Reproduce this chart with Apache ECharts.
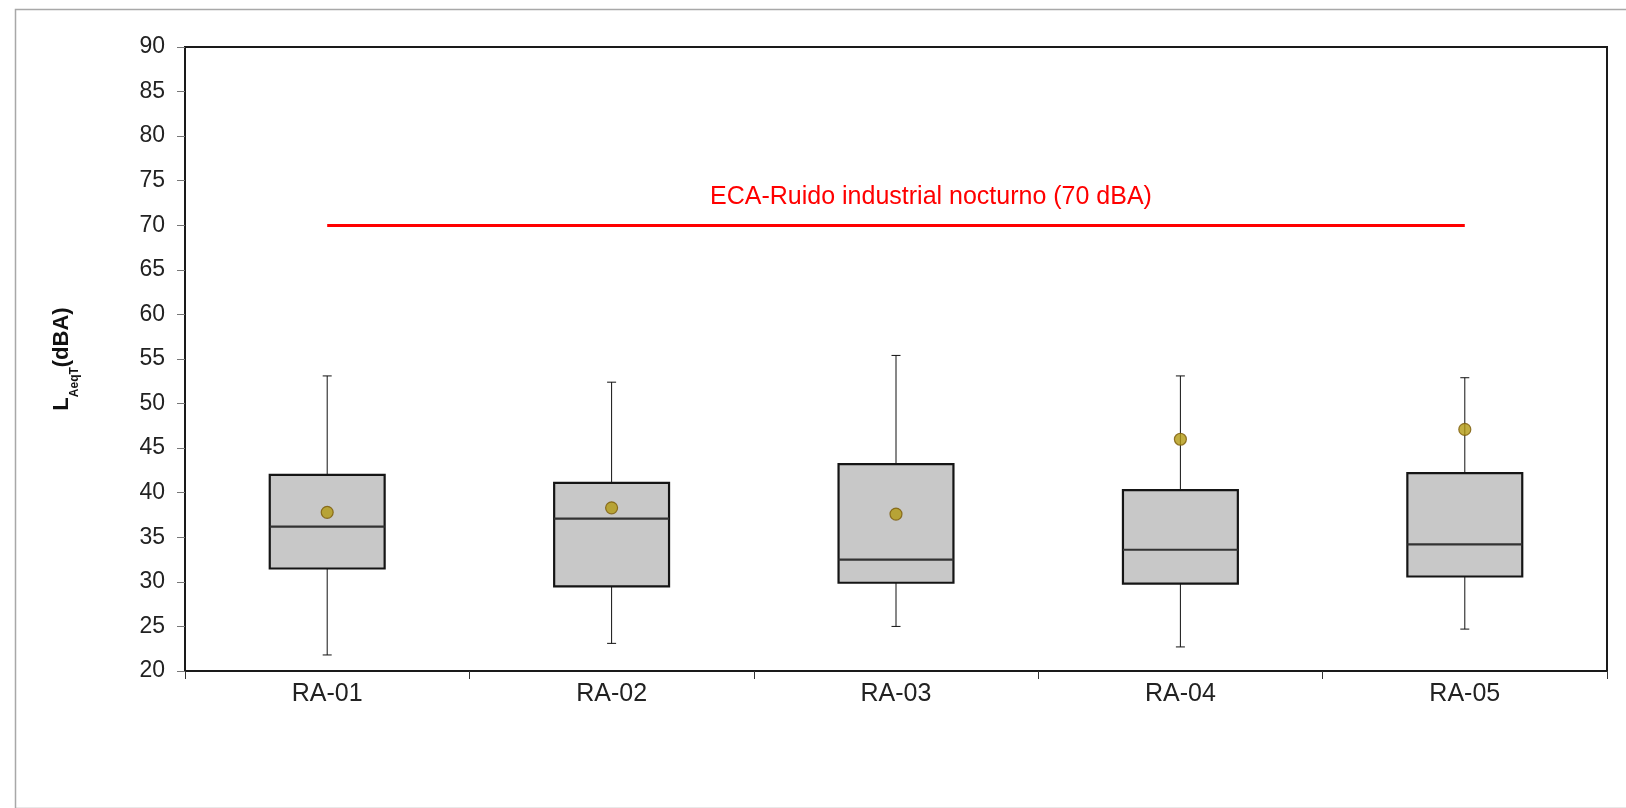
<!DOCTYPE html>
<html>
<head>
<meta charset="utf-8">
<script src="https://cdn.jsdelivr.net/npm/echarts@6/dist/echarts.min.js"></script>
<style>
html,body{margin:0;padding:0;background:#fff;}
#chart{width:1626px;height:808px;}
</style>
</head>
<body>
<div id="chart"></div>
<script>
// ---- data ----
const categories = ['RA-01', 'RA-02', 'RA-03', 'RA-04', 'RA-05'];
const whiskerLow  = [21.8, 23.1, 25.0, 22.7, 24.7];
const q1          = [31.5, 29.5, 29.9, 29.8, 30.6];
const median      = [36.2, 37.1, 32.5, 33.6, 34.2];
const q3          = [42.0, 41.1, 43.2, 40.3, 42.2];
const whiskerHigh = [53.1, 52.4, 55.4, 53.1, 52.9];
const means       = [37.8, 38.3, 37.6, 46.0, 47.1];
const yTicks = { min: 20, max: 90, step: 5 };
const limitValue = 70;
const limitFrom = 0;   // category index where the limit line starts
const limitTo = 4;     // category index where the limit line ends
const limitLabel = 'ECA-Ruido industrial nocturno (70 dBA)';

const FONT = '"Liberation Sans", Arial, sans-serif';

const boxData = categories.map((c, i) => [i, whiskerLow[i], q1[i], median[i], q3[i], whiskerHigh[i]]);
const meanData = categories.map((c, i) => [i, means[i]]);

const chart = echarts.init(document.getElementById('chart'), null, { renderer: 'canvas' });

function renderBox(params, api) {
  const x = api.value(0);
  const pLow = api.coord([x, api.value(1)]);
  const pQ1 = api.coord([x, api.value(2)]);
  const pMed = api.coord([x, api.value(3)]);
  const pQ3 = api.coord([x, api.value(4)]);
  const pHigh = api.coord([x, api.value(5)]);
  const band = api.size([1, 0])[0];
  const half = band * 0.202;
  const cap = 4.5;
  const cx = pMed[0];
  const thin = { stroke: '#111', lineWidth: 1 };
  return {
    type: 'group',
    children: [
      { type: 'line', shape: { x1: cx, y1: pHigh[1], x2: cx, y2: pQ3[1] }, style: thin },
      { type: 'line', shape: { x1: cx - cap, y1: pHigh[1], x2: cx + cap, y2: pHigh[1] }, style: thin },
      { type: 'line', shape: { x1: cx, y1: pQ1[1], x2: cx, y2: pLow[1] }, style: thin },
      { type: 'line', shape: { x1: cx - cap, y1: pLow[1], x2: cx + cap, y2: pLow[1] }, style: thin },
      { type: 'rect', shape: { x: cx - half, y: pQ3[1], width: half * 2, height: pQ1[1] - pQ3[1] },
        style: { fill: '#c8c8c8', stroke: '#151515', lineWidth: 2.2 } },
      { type: 'line', shape: { x1: cx - half, y1: pMed[1], x2: cx + half, y2: pMed[1] },
        style: { stroke: '#333', lineWidth: 2.2 } }
    ]
  };
}

const option = {
  backgroundColor: '#ffffff',
  animation: false,
  textStyle: { fontFamily: FONT },
  grid: {
    left: 185, right: 19, top: 47, bottom: 137,
    show: true, borderColor: '#1a1a1a', borderWidth: 2, backgroundColor: '#ffffff'
  },
  xAxis: [
    {
      type: 'category',
      data: categories,
      boundaryGap: true,
      axisLine: { show: true, onZero: false, lineStyle: { color: '#1a1a1a', width: 2 } },
      axisTick: { show: true, length: 8, lineStyle: { color: '#333', width: 1 } },
      axisLabel: { fontSize: 25, color: '#222', margin: 11, fontFamily: FONT },
      splitLine: { show: false }
    },
    {
      type: 'value',
      min: -0.5, max: categories.length - 0.5,
      show: false,
      axisLine: { show: false, onZero: false },
      axisTick: { show: false },
      axisLabel: { show: false },
      splitLine: { show: false }
    }
  ],
  yAxis: {
    type: 'value',
    min: yTicks.min, max: yTicks.max, interval: yTicks.step,
    axisLine: { show: true, onZero: false, lineStyle: { color: '#1a1a1a', width: 2 } },
    axisTick: { show: true, length: 8, lineStyle: { color: '#777', width: 1 } },
    axisLabel: { fontSize: 23, color: '#222', margin: 20, fontFamily: FONT },
    splitLine: { show: false },
    name: '{b|L}{s|AeqT}{b|(dBA)}',
    nameLocation: 'middle',
    nameRotate: 90,
    nameGap: 104,
    nameTextStyle: {
      rich: {
        b: { fontSize: 22, fontWeight: 'bold', color: '#111', fontFamily: FONT, lineHeight: 30, verticalAlign: 'top' },
        s: { fontSize: 12, fontWeight: 'bold', color: '#111', fontFamily: FONT, lineHeight: 14, verticalAlign: 'bottom' }
      }
    }
  },
  series: [
    {
      type: 'custom',
      name: 'box',
      xAxisIndex: 0,
      renderItem: renderBox,
      data: boxData,
      z: 2
    },
    {
      type: 'scatter',
      name: 'media',
      xAxisIndex: 0,
      data: meanData,
      symbol: 'circle',
      symbolSize: 12,
      itemStyle: { color: '#b39a12', borderColor: '#7a5a08', borderWidth: 1.2 },
      z: 5
    },
    {
      type: 'line',
      name: 'ECA',
      xAxisIndex: 1,
      data: [],
      markLine: {
        silent: true,
        symbol: 'none',
        lineStyle: { color: '#ff0000', width: 3, type: 'solid' },
        label: {
          show: true,
          position: 'insideMiddleTop',
          formatter: limitLabel,
          color: '#ff0000',
          fontSize: 25,
          fontFamily: FONT,
          padding: [0, 0, 0, 70],
          distance: 16
        },
        data: [[{ coord: [limitFrom, limitValue] }, { coord: [limitTo, limitValue] }]]
      }
    }
  ],
  graphic: [
    {
      type: 'rect',
      left: 13, top: 7,
      shape: { width: 1640, height: 799 },
      style: { fill: 'none', stroke: '#a8a8a8', lineWidth: 1.5 },
      z: -10
    }
  ]
};

chart.setOption(option);
</script>
</body>
</html>
